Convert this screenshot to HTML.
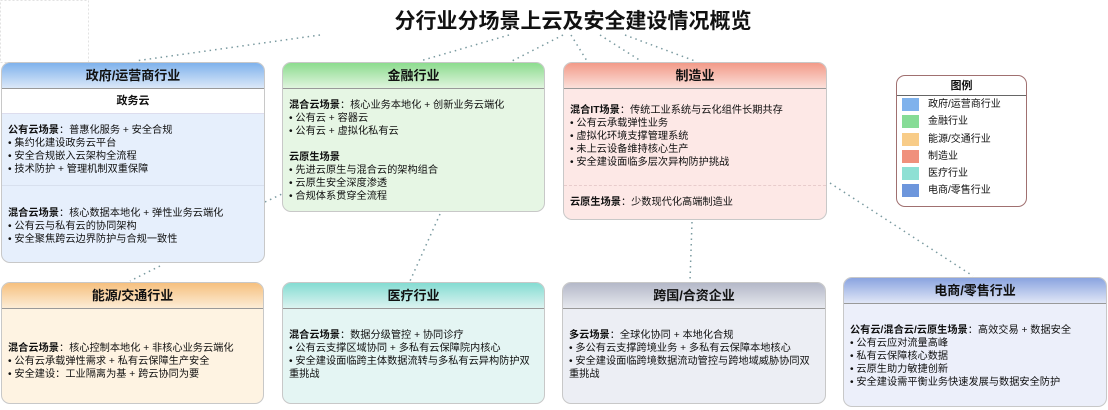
<!DOCTYPE html>
<html><head><meta charset="utf-8">
<style>
*{margin:0;padding:0;box-sizing:border-box}
body{width:1108px;height:410px;background:#fff;position:relative;overflow:hidden;font-family:"Liberation Sans","Noto Sans CJK SC",sans-serif;color:#111}
.title{position:absolute;left:0;width:1146px;top:5px;text-align:center;font-size:21px;font-weight:bold}
.box{position:absolute;border:1px solid #c8c8c8;border-radius:9px;overflow:hidden}
.hd{height:26px;line-height:26px;text-align:center;font-size:13px;font-weight:bold;border-bottom:1px solid #999}
.bd{padding:0 6px;font-size:10.2px;line-height:13px}
.bd b{font-weight:bold}
.sub{height:25px;line-height:25px;text-align:center;font-size:11px;font-weight:bold;background:#fff;border-bottom:1px solid #dde}
svg{position:absolute;left:0;top:0}
.lg{position:absolute;left:896px;top:75px;width:131px;height:132px;border:1px solid #a07070;border-radius:9px;background:#fff;overflow:hidden}
.lg .h{height:20px;line-height:20px;text-align:center;font-weight:bold;font-size:11px;border-bottom:1px solid #666}
.lg .r{height:17.3px;font-size:10px;line-height:17px;position:relative;padding-left:31px}
.lg .r i{position:absolute;left:5px;top:2px;width:17px;height:13px}
</style></head><body>
<svg width="1108" height="410">
<rect x="0.5" y="0.5" width="88" height="62" fill="none" stroke="#e2e2e2" stroke-dasharray="2 2"/>
<g stroke="#7a9aa0" stroke-width="1.5" stroke-dasharray="1.5 4" fill="none">
<line x1="320" y1="35" x2="135" y2="61"/>
<line x1="509" y1="35" x2="420" y2="61"/>
<line x1="563" y1="35" x2="512" y2="61"/>
<line x1="571" y1="35" x2="587" y2="61"/>
<line x1="600" y1="35" x2="641" y2="61"/>
<line x1="625" y1="35" x2="695" y2="61"/>
<line x1="160" y1="266" x2="130" y2="281"/>
<line x1="440" y1="214" x2="410" y2="281"/>
<line x1="692" y1="222" x2="690" y2="281"/>
<line x1="830" y1="183" x2="973" y2="276"/>
<line x1="265" y1="202" x2="282" y2="194"/>
</g></svg>
<div class="title">分行业分场景上云及安全建设情况概览</div>

<div class="box" style="left:1px;top:62px;width:264px;height:201px;background:#e6effc">
<div class="hd" style="background:linear-gradient(#7fb2ec,#dbe8f8)">政府/运营商行业</div>
<div class="sub">政务云</div>
<div class="bd" style="padding-top:10px"><b>公有云场景</b>：普惠化服务 + 安全合规<br>• 集约化建设政务云平台<br>• 安全合规嵌入云架构全流程<br>• 技术防护 + 管理机制双重保障</div>
<div style="border-top:1px solid #d8e0ee;margin-top:9px"></div>
<div class="bd" style="padding-top:21px"><b>混合云场景</b>：核心数据本地化 + 弹性业务云端化<br>• 公有云与私有云的协同架构<br>• 安全聚焦跨云边界防护与合规一致性</div>
</div>

<div class="box" style="left:282px;top:62px;width:263px;height:150px;background:#e6f6e4">
<div class="hd" style="background:linear-gradient(#8cdc8e,#e0f4de)">金融行业</div>
<div class="bd" style="padding-top:10px"><b>混合云场景</b>：核心业务本地化 + 创新业务云端化<br>• 公有云 + 容器云<br>• 公有云 + 虚拟化私有云</div>
<div class="bd" style="padding-top:13px"><b>云原生场景</b><br>• 先进云原生与混合云的架构组合<br>• 云原生安全深度渗透<br>• 合规体系贯穿全流程</div>
</div>

<div class="box" style="left:563px;top:62px;width:264px;height:158px;background:#fde8e6">
<div class="hd" style="background:linear-gradient(#f29a88,#fbe0da)">制造业</div>
<div class="bd" style="padding-top:15px"><b>混合IT场景</b>：传统工业系统与云化组件长期共存<br>• 公有云承载弹性业务<br>• 虚拟化环境支撑管理系统<br>• 未上云设备维持核心生产<br>• 安全建设面临多层次异构防护挑战</div>
<div style="border-top:1px dashed #e8cccc;margin-top:16px"></div>
<div class="bd" style="padding-top:10px"><b>云原生场景</b>：少数现代化高端制造业</div>
</div>

<div class="lg">
<div class="h">图例</div>
<div class="r"><i style="background:#7fb2ec"></i>政府/运营商行业</div>
<div class="r"><i style="background:#86dc96"></i>金融行业</div>
<div class="r"><i style="background:#f8cc88"></i>能源/交通行业</div>
<div class="r"><i style="background:#f0907c"></i>制造业</div>
<div class="r"><i style="background:#8ee0d4"></i>医疗行业</div>
<div class="r"><i style="background:#6d96dc"></i>电商/零售行业</div>
</div>

<div class="box" style="left:1px;top:282px;width:263px;height:122px;background:#fef3e2">
<div class="hd" style="background:linear-gradient(#f6c07e,#fcecd6)">能源/交通行业</div>
<div class="bd" style="padding-top:33px"><b>混合云场景</b>：核心控制本地化 + 非核心业务云端化<br>• 公有云承载弹性需求 + 私有云保障生产安全<br>• 安全建设：工业隔离为基 + 跨云协同为要</div>
</div>

<div class="box" style="left:282px;top:282px;width:263px;height:122px;background:#e4f5f3">
<div class="hd" style="background:linear-gradient(#84dcd2,#dcf3f0)">医疗行业</div>
<div class="bd" style="padding-top:20px"><b>混合云场景</b>：数据分级管控 + 协同诊疗<br>• 公有云支撑区域协同 + 多私有云保障院内核心<br>• 安全建设面临跨主体数据流转与多私有云异构防护双重挑战</div>
</div>

<div class="box" style="left:562px;top:282px;width:264px;height:122px;background:#eceef4">
<div class="hd" style="background:linear-gradient(#b4b8c8,#e6e8ee)">跨国/合资企业</div>
<div class="bd" style="padding-top:20px"><b>多云场景</b>：全球化协同 + 本地化合规<br>• 多公有云支撑跨境业务 + 多私有云保障本地核心<br>• 安全建设面临跨境数据流动管控与跨地域威胁协同双重挑战</div>
</div>

<div class="box" style="left:843px;top:277px;width:264px;height:130px;background:#eceffa">
<div class="hd" style="background:linear-gradient(#8aa4e0,#e0e6f6)">电商/零售行业</div>
<div class="bd" style="padding-top:20px"><b>公有云/混合云/云原生场景</b>：高效交易 + 数据安全<br>• 公有云应对流量高峰<br>• 私有云保障核心数据<br>• 云原生助力敏捷创新<br>• 安全建设需平衡业务快速发展与数据安全防护</div>
</div>
</body></html>
